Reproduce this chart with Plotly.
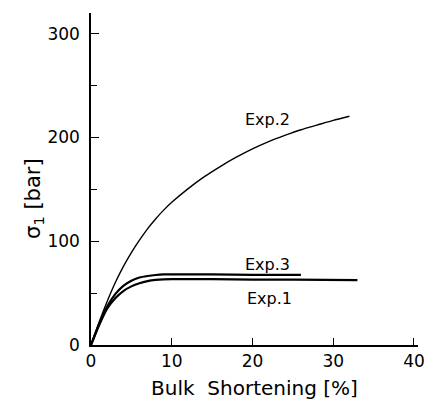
import plotly.graph_objects as go

# Data
exp2_x = [0, 1, 2, 3, 4, 5, 6, 7, 8, 9, 10, 12, 14, 16, 18, 20, 22, 24, 26, 28, 30, 32]
exp2_y = [0, 22, 42, 60, 75.5, 89, 101, 112, 121.5, 130, 137.5, 150.5, 162, 172, 181, 189, 196, 202, 207.5, 212, 216.5, 220.5]

exp3_x = [0, 1, 2, 3, 4, 5, 6, 7, 8, 9, 10, 12, 15, 20, 26]
exp3_y = [0, 20, 37, 49, 57, 62, 65, 66.5, 67.5, 68, 68, 68, 68, 67.5, 67.5]

exp1_x = [0, 1, 2, 3, 4, 5, 6, 7, 8, 9, 10, 12, 15, 20, 25, 33]
exp1_y = [0, 19, 35, 45, 52, 56.5, 59.5, 61.5, 62.7, 63.3, 63.5, 63.5, 63.5, 63, 63, 62.5]

x_ticks = [0, 10, 20, 30, 40]
y_ticks = [0, 100, 200, 300]
y_minor = [50, 150, 250]

FONT = "DejaVu Sans"

fig = go.Figure()
fig.add_trace(go.Scatter(x=exp2_x, y=exp2_y, mode="lines", line=dict(color="black", width=1.4, shape="spline", smoothing=0.6)))
fig.add_trace(go.Scatter(x=exp3_x, y=exp3_y, mode="lines", line=dict(color="black", width=2.2, shape="spline", smoothing=0.6)))
fig.add_trace(go.Scatter(x=exp1_x, y=exp1_y, mode="lines", line=dict(color="black", width=2.2, shape="spline", smoothing=0.6)))

fig.update_layout(
    width=424, height=406,
    margin=dict(l=91, r=6, t=13, b=61),
    paper_bgcolor="white", plot_bgcolor="white",
    showlegend=False,
    font=dict(family=FONT, color="black", size=17),
    xaxis=dict(
        range=[0, 40.5], showgrid=False, zeroline=False, automargin=False,
        showline=True, linecolor="black", linewidth=1.5,
        tickvals=x_ticks, ticks="inside", ticklen=7, tickwidth=1.3, tickcolor="black",
        ticklabeloverflow="allow",
        tickfont=dict(size=17, family=FONT),
        title=dict(text="Bulk  Shortening [%]", font=dict(size=20, family=FONT), standoff=11),
    ),
    yaxis=dict(
        range=[0, 320], showgrid=False, zeroline=False, automargin=False,
        showline=True, linecolor="black", linewidth=1.5,
        tickvals=y_ticks, ticks="inside", ticklen=8, tickwidth=1.3, tickcolor="black",
        ticklabelstandoff=6, ticklabeloverflow="allow",
        minor=dict(tickvals=y_minor, ticks="inside", ticklen=6, tickwidth=1.3, tickcolor="black"),
        tickfont=dict(size=17, family=FONT),
    ),
    annotations=[
        dict(x=21.8, y=217.6, text="Exp.2", showarrow=False, font=dict(size=16, family=FONT)),
        dict(x=21.8, y=77.8, text="Exp.3", showarrow=False, font=dict(size=16, family=FONT)),
        dict(x=22.1, y=45, text="Exp.1", showarrow=False, font=dict(size=16, family=FONT)),
        dict(xref="paper", yref="paper", x=0, y=0.44, xshift=-72, textangle=-90,
             text="σ<sub>1</sub> [bar]", showarrow=False, font=dict(size=21, family=FONT)),
    ],
)

fig.write_html("out.html")
